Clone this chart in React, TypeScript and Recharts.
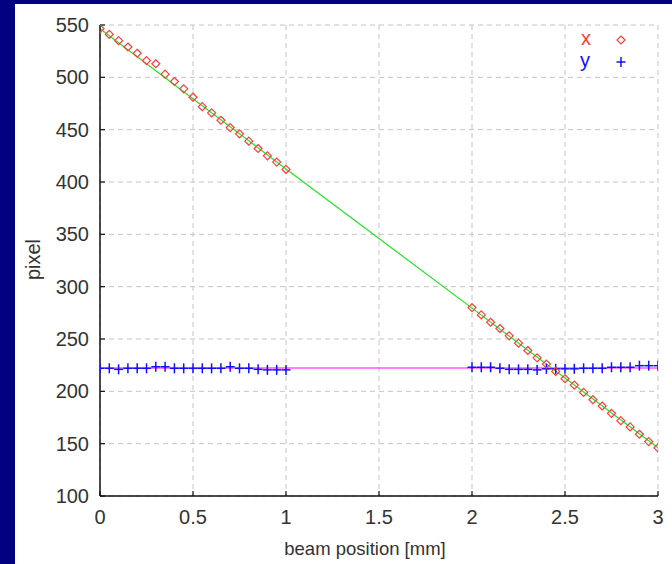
import React from 'react';
import { ComposedChart, Line, Scatter, XAxis, YAxis, CartesianGrid, Legend, Label } from 'recharts';

const beamPositions = [
  0, 0.05, 0.1, 0.15, 0.2, 0.25, 0.3, 0.35, 0.4, 0.45, 0.5, 0.55, 0.6, 0.65, 0.7, 0.75, 0.8, 0.85, 0.9, 0.95, 1.0,
  2.0, 2.05, 2.1, 2.15, 2.2, 2.25, 2.3, 2.35, 2.4, 2.45, 2.5, 2.55, 2.6, 2.65, 2.7, 2.75, 2.8, 2.85, 2.9, 2.95, 3.0,
];
const xPixels = [
  546.5, 541, 535, 529, 523, 516, 513, 503, 496, 489, 481, 472, 466, 459, 452, 446, 439, 432, 425, 419, 412,
  280, 273, 266, 260, 253, 246, 239, 232, 226, 219, 212, 206, 199, 192, 186, 179, 172, 166, 159, 152, 146,
];
const yPixels = [
  222, 222, 221, 222, 222, 222, 223.5, 223.5, 222, 222, 222, 222, 222, 222, 223.5, 222, 222, 221, 220.5, 220.5, 220.5,
  223, 223, 223, 222, 221, 221, 221, 220.5, 221.5, 221.5, 221.5, 221.5, 222, 222, 222, 223, 223, 223, 224.5, 224.5, 224.5,
];
const fitPositions = [0, 1, 2, 3];
const xFitPixels = [546.5, 412.5, 279.5, 146];
const yFitPixels = [222.3, 222.3, 222.3, 222.3];
const xTicks = [0, 0.5, 1, 1.5, 2, 2.5, 3];
const yTicks = [100, 150, 200, 250, 300, 350, 400, 450, 500, 550];

const xData = beamPositions.map((p, i) => ({ pos: p, v: xPixels[i] }));
const yData = beamPositions.map((p, i) => ({ pos: p, v: yPixels[i] }));
const xFit = fitPositions.map((p, i) => ({ pos: p, v: xFitPixels[i] }));
const yFit = fitPositions.map((p, i) => ({ pos: p, v: yFitPixels[i] }));

const RED = '#ff3c3c';
const BLUE = '#1010ff';
const GREEN = '#22e622';
const MAGENTA = '#ff00ff';
const AXIS = '#111';
const TEXT = '#333';

const Diamond = (props: any) => {
  const { cx, cy } = props;
  if (cx == null || cy == null) return null;
  const r = 4;
  return (
    <polygon
      points={`${cx},${cy - r} ${cx + r},${cy} ${cx},${cy + r} ${cx - r},${cy}`}
      fill="none"
      stroke={RED}
      strokeWidth={1.2}
    />
  );
};

const Cross = (props: any) => {
  const { cx, cy } = props;
  if (cx == null || cy == null) return null;
  return (
    <g stroke={BLUE} strokeWidth={1.5}>
      <line x1={cx - 4.5} y1={cy} x2={cx + 4.5} y2={cy} />
      <line x1={cx} y1={cy - 5} x2={cx} y2={cy + 5} />
    </g>
  );
};

const LegendBox = () => (
  <svg width={80} height={50} style={{ display: 'block', fontFamily: 'Liberation Sans, Arial, sans-serif' }}>
    <text x={15} y={20} fontSize={20} fill={RED} textAnchor="middle">x</text>
    <polygon points="50,11 54,15 50,19 46,15" fill="none" stroke={RED} strokeWidth={1.2} />
    <text x={14} y={42} fontSize={20} fill={BLUE} textAnchor="middle">y</text>
    <g stroke={BLUE} strokeWidth={1.5}>
      <line x1={45.5} y1={37} x2={54.5} y2={37} />
      <line x1={50} y1={32} x2={50} y2={42} />
    </g>
  </svg>
);

export default function App() {
  return (
    <div style={{ position: 'absolute', left: 0, top: 0, width: 672, height: 564, background: '#000080', overflow: 'hidden' }}>
      <div style={{ position: 'absolute', left: 15, top: 4, width: 657, height: 560, background: '#ffffff' }}>
        <ComposedChart
          width={657}
          height={560}
          margin={{ top: 21, right: 14, bottom: 0, left: 0 }}
          style={{ fontFamily: 'Liberation Sans, Arial, sans-serif' }}
        >
          <CartesianGrid stroke="#c4c4c4" strokeDasharray="5 4" />
          <XAxis
            dataKey="pos"
            type="number"
            domain={[0, 3]}
            ticks={xTicks}
            allowDataOverflow
            tickSize={-5}
            tickMargin={19}
            height={68}
            axisLine={{ stroke: AXIS, strokeWidth: 1.5 }}
            tickLine={{ stroke: AXIS, strokeWidth: 1.2 }}
            tick={{ fill: TEXT, fontSize: 20 }}
          >
            <Label
              content={(props: any) => {
                const vb = props.viewBox || {};
                return (
                  <text x={vb.x + vb.width / 2 - 14} y={551} fontSize={18.5} fill={TEXT} textAnchor="middle">
                    beam position [mm]
                  </text>
                );
              }}
            />
          </XAxis>
          <XAxis
            xAxisId="top"
            orientation="top"
            dataKey="pos"
            type="number"
            domain={[0, 3]}
            ticks={xTicks}
            allowDataOverflow
            tickSize={-5}
            tick={false}
            height={0}
            axisLine={{ stroke: AXIS, strokeWidth: 1.5 }}
            tickLine={{ stroke: AXIS, strokeWidth: 1.2 }}
          />
          <YAxis
            type="number"
            domain={[100, 550]}
            ticks={yTicks}
            allowDataOverflow
            tickSize={-5}
            tickMargin={16}
            width={85}
            axisLine={{ stroke: AXIS, strokeWidth: 1.5 }}
            tickLine={{ stroke: AXIS, strokeWidth: 1.2 }}
            tick={{ fill: TEXT, fontSize: 20 }}
          >
            <Label
              content={(props: any) => {
                const vb = props.viewBox || {};
                const cy = vb.y + vb.height / 2 - 1;
                return (
                  <text x={24.6} y={cy} fontSize={20} fill={TEXT} textAnchor="middle" transform={`rotate(-90, 24.6, ${cy})`}>
                    pixel
                  </text>
                );
              }}
            />
          </YAxis>
          <YAxis
            yAxisId="right"
            orientation="right"
            type="number"
            domain={[100, 550]}
            ticks={yTicks}
            allowDataOverflow
            tickSize={-5}
            tick={false}
            width={0}
            axisLine={{ stroke: AXIS, strokeWidth: 1.5 }}
            tickLine={{ stroke: AXIS, strokeWidth: 1.2 }}
          />
          <Scatter name="y" data={yData} dataKey="v" shape={Cross} isAnimationActive={false} />
          <Line data={yFit} dataKey="v" stroke={MAGENTA} strokeWidth={1.2} dot={false} isAnimationActive={false} legendType="none" />
          <Line data={xFit} dataKey="v" stroke={GREEN} strokeWidth={1.2} dot={false} isAnimationActive={false} legendType="none" />
          <Scatter name="x" data={xData} dataKey="v" shape={Diamond} isAnimationActive={false} />
          <Legend
            layout="vertical"
            align="center"
            verticalAlign="middle"
            wrapperStyle={{ position: 'absolute', left: 556, top: 21, width: 80, height: 50 }}
            content={() => <LegendBox />}
          />
        </ComposedChart>
      </div>
    </div>
  );
}
